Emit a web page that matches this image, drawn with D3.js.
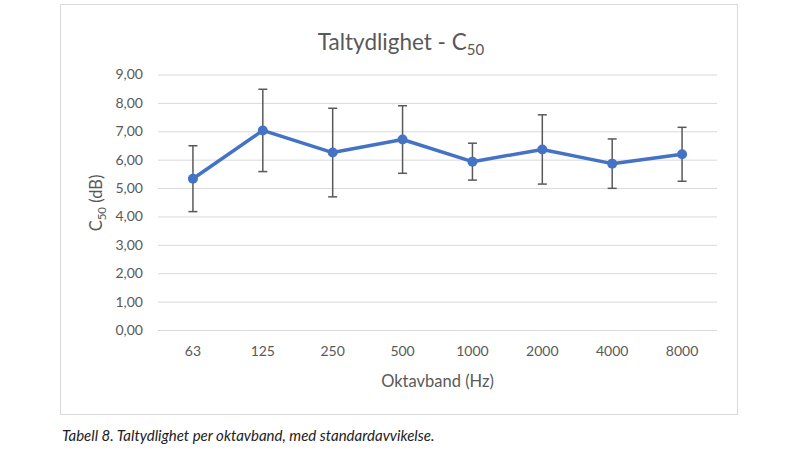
<!DOCTYPE html>
<html lang="sv">
<head>
<meta charset="UTF-8">
<title>Taltydlighet - C50</title>
<script src="https://d3js.org/d3.v7.min.js"></script>
<style>
    body { margin: 0; background: #fff; font-family: Lato, "Open Sans", sans-serif; }
    svg { display: block; }
</style>
</head>
<body>
<svg id="chart" width="800" height="450"></svg>
<script>
    const bands = ["63", "125", "250", "500", "1000", "2000", "4000", "8000"];
    const c50 = [5.33, 7.03, 6.25, 6.71, 5.93, 6.36, 5.86, 6.19];
    const stdDev = [1.16, 1.45, 1.56, 1.19, 0.65, 1.22, 0.87, 0.95];
    const yTicks = [0, 1, 2, 3, 4, 5, 6, 7, 8, 9];

    const svg = d3.select("#chart");
    const plotLeft = 158, plotRight = 717, plotTop = 74.5, plotBottom = 330;

    // chart frame
    svg.append("rect")
        .attr("x", 60.5).attr("y", 4.5)
        .attr("width", 677).attr("height", 410)
        .attr("fill", "#fff")
        .attr("stroke", "#d9d9d9");

    const x = d3.scaleBand().domain(bands).range([plotLeft, plotRight]);
    const y = d3.scaleLinear().domain([0, 9]).range([plotBottom, plotTop]);

    // gridlines + y labels
    const yAxis = d3.axisLeft(y).tickValues(yTicks)
        .tickSize(-(plotRight - plotLeft)).tickPadding(15)
        .tickFormat(d => d3.format(".2f")(d).replace(".", ","));
    const gy = svg.append("g").attr("transform", `translate(${plotLeft},0)`).call(yAxis);
    gy.select(".domain").remove();
    gy.selectAll("line").attr("stroke", "#d9d9d9").attr("stroke-width", 1);
    gy.selectAll("text").attr("fill", "#595959").style("font-size", "14px")
        .style("font-family", "Lato, 'Open Sans', sans-serif");

    // x labels
    const xAxis = d3.axisBottom(x).tickSize(0).tickPadding(16);
    const gx = svg.append("g").attr("transform", `translate(0,${plotBottom})`).call(xAxis);
    gx.select(".domain").remove();
    gx.selectAll("text").attr("fill", "#595959").style("font-size", "14px")
        .style("font-family", "Lato, 'Open Sans', sans-serif");

    const cx = d => x(d) + x.bandwidth() / 2;

    // error bars
    const err = svg.append("g").attr("stroke", "#595959").attr("stroke-width", 1.5);
    bands.forEach((b, i) => {
        const hi = y(c50[i] + stdDev[i]), lo = y(c50[i] - stdDev[i]);
        err.append("line").attr("x1", cx(b)).attr("x2", cx(b)).attr("y1", hi).attr("y2", lo);
        err.append("line").attr("x1", cx(b) - 4.5).attr("x2", cx(b) + 4.5).attr("y1", hi).attr("y2", hi);
        err.append("line").attr("x1", cx(b) - 4.5).attr("x2", cx(b) + 4.5).attr("y1", lo).attr("y2", lo);
    });

    // line + markers
    const line = d3.line().x((d, i) => cx(bands[i])).y(d => y(d));
    svg.append("path").datum(c50)
        .attr("d", line)
        .attr("fill", "none")
        .attr("stroke", "#4472c4")
        .attr("stroke-width", 3.5)
        .attr("stroke-linejoin", "round");
    svg.append("g").selectAll("circle").data(c50).join("circle")
        .attr("cx", (d, i) => cx(bands[i]))
        .attr("cy", d => y(d))
        .attr("r", 5)
        .attr("fill", "#4472c4");

    // title
    const title = svg.append("text")
        .attr("x", 401).attr("y", 50)
        .attr("text-anchor", "middle")
        .attr("fill", "#595959")
        .style("font-size", "22.5px");
    title.append("tspan").text("Taltydlighet - C");
    title.append("tspan").attr("dy", 5).style("font-size", "15px").text("50");

    // axis titles
    svg.append("text")
        .attr("x", (plotLeft + plotRight) / 2).attr("y", 387)
        .attr("text-anchor", "middle")
        .attr("fill", "#595959")
        .style("font-size", "16.5px")
        .text("Oktavband (Hz)");

    const yt = svg.append("text")
        .attr("transform", "translate(102,203) rotate(-90)")
        .attr("text-anchor", "middle")
        .attr("fill", "#595959")
        .style("font-size", "16.5px");
    yt.append("tspan").text("C");
    yt.append("tspan").attr("dy", 4).style("font-size", "11.5px").text("50");
    yt.append("tspan").attr("dy", -4).text(" (dB)");

    // caption
    svg.append("text")
        .attr("x", 62).attr("y", 441)
        .attr("fill", "#222")
        .style("font-size", "15px")
        .style("font-style", "italic")
        .text("Tabell 8. Taltydlighet per oktavband, med standardavvikelse.");
</script>
</body>
</html>
